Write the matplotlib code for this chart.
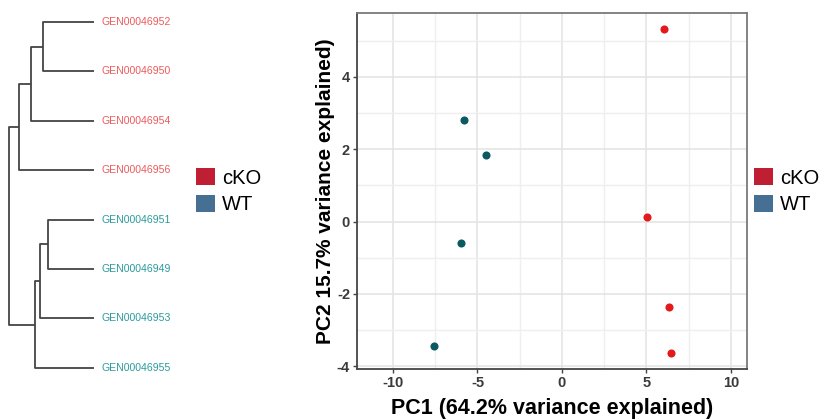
import matplotlib
matplotlib.use('Agg')
import matplotlib.pyplot as plt
from matplotlib.patches import Patch
from matplotlib.ticker import MultipleLocator

plt.rcParams['font.family'] = ['Liberation Sans', 'DejaVu Sans']
plt.rcParams['axes.unicode_minus'] = False

# dendrogram: leaves top to bottom, merges (child a, child b, height); ids 0-7 leaves, 8+ nodes
leaf_labels = ['GEN00046952', 'GEN00046950', 'GEN00046954', 'GEN00046956',
               'GEN00046951', 'GEN00046949', 'GEN00046953', 'GEN00046955']
leaf_groups = ['cKO', 'cKO', 'cKO', 'cKO', 'WT', 'WT', 'WT', 'WT']
merges = [(0, 1, 5.1), (8, 2, 6.3), (9, 3, 7.5),
          (4, 5, 4.6), (11, 6, 5.4), (12, 7, 5.9),
          (10, 13, 8.5)]

# PCA scores
pc1_cko = [6.04, 5.01, 6.33, 6.43]
pc2_cko = [5.34, 0.12, -2.36, -3.64]
pc1_wt = [-5.78, -4.51, -6.00, -7.60]
pc2_wt = [2.81, 1.83, -0.58, -3.45]

groups = ['cKO', 'WT']
legend_colors = ['#c01f33', '#466f94']
label_colors = {'cKO': '#ec5a5c', 'WT': '#2a9b9b'}
point_cko = '#e31a1c'
point_wt = '#0b5a62'

W, H = 821, 420
fig = plt.figure(figsize=(W / 100, H / 100), dpi=100)

# ---- dendrogram ----
axd = fig.add_axes([0, 0, 94 / W, 1])
axd.set_xlim(9.4, 0)
axd.set_ylim((H - 22) / 49.4, -22 / 49.4)
axd.axis('off')

pos = {i: (float(i), 0.0) for i in range(len(leaf_labels))}
for k, (a, b, h) in enumerate(merges):
    ya, ha = pos[a]
    yb, hb = pos[b]
    axd.plot([ha, h, h, hb], [ya, ya, yb, yb], color='#444444', lw=1.3,
             solid_capstyle='butt', clip_on=False)
    pos[len(leaf_labels) + k] = ((ya + yb) / 2, h)

for i, (lab, g) in enumerate(zip(leaf_labels, leaf_groups)):
    axd.text(-0.7, i, lab, ha='left', va='center', fontsize=7.6,
             color=label_colors[g], clip_on=False)

handles = [Patch(facecolor=c, edgecolor='none') for c in legend_colors]
leg_kw = dict(loc='upper left', frameon=False, fontsize=14.5, handlelength=0.95,
              handleheight=0.95, handletextpad=0.35, labelspacing=0.35,
              borderpad=0, borderaxespad=0)
fig.legend(handles, groups, bbox_to_anchor=(196 / W, 1 - 168 / H), **leg_kw)

# ---- PCA scatter ----
ax = fig.add_axes([357 / W, (H - 369) / H, (747 - 357) / W, (369 - 13) / H])
ax.scatter(pc1_cko, pc2_cko, s=34, color=point_cko, zorder=3, linewidths=0)
ax.scatter(pc1_wt, pc2_wt, s=34, color=point_wt, zorder=3, linewidths=0)
ax.set_xlim(-12.13, 10.95)
ax.set_ylim(-4.08, 5.77)
ax.xaxis.set_major_locator(MultipleLocator(5))
ax.xaxis.set_minor_locator(MultipleLocator(2.5))
ax.yaxis.set_major_locator(MultipleLocator(2))
ax.yaxis.set_minor_locator(MultipleLocator(1))
ax.grid(which='major', color='#e3e3e3', lw=1.1)
ax.grid(which='minor', color='#efefef', lw=1.0)
ax.set_axisbelow(True)
for s in ax.spines.values():
    s.set_color('#7a7a7a')
    s.set_linewidth(1.3)
ax.spines['left'].set_color('#444444')
ax.spines['bottom'].set_color('#444444')
ax.tick_params(which='major', length=3, width=1, color='#444444', pad=2)
ax.tick_params(which='minor', length=0)
for t in ax.get_xticklabels() + ax.get_yticklabels():
    t.set_fontsize(10.5)
    t.set_fontweight('bold')
    t.set_color('#3a3a3a')
ax.set_xlabel('PC1 (64.2% variance explained)', fontsize=15.5, fontweight='bold', labelpad=6)
ax.set_ylabel('PC2 15.7% variance explained)', fontsize=15, fontweight='bold', labelpad=1)

fig.legend(handles, groups, bbox_to_anchor=(754 / W, 1 - 168 / H), **leg_kw)

fig.savefig('out.png', dpi=100)
